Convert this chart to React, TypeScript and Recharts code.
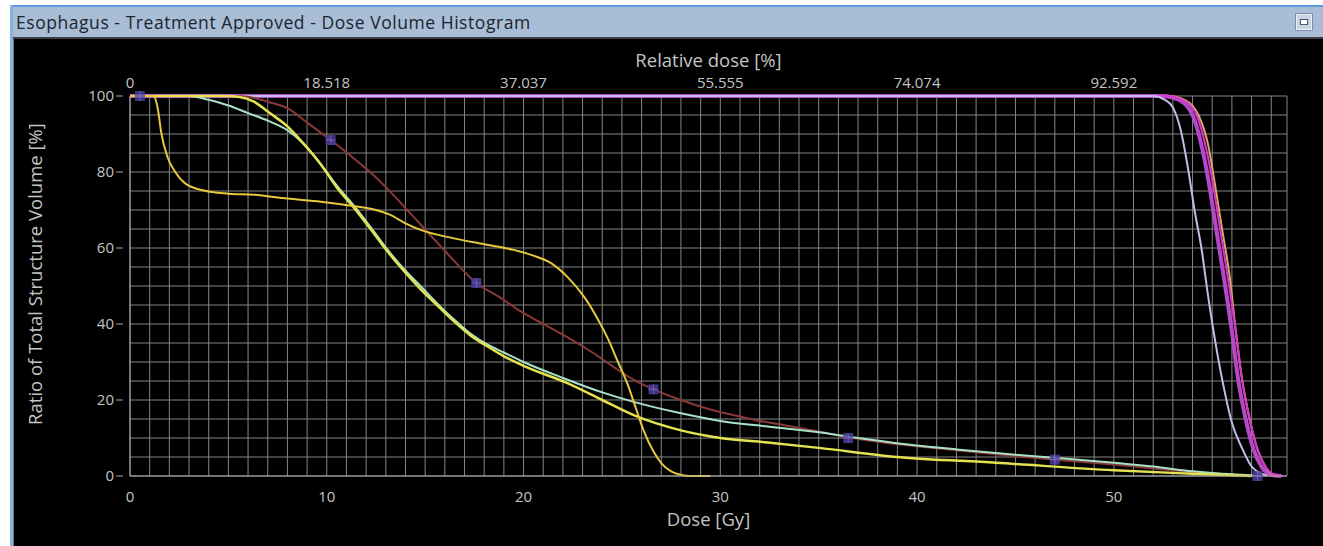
import { CartesianGrid, ComposedChart, Line, Scatter, XAxis, YAxis } from 'recharts';

// dose [Gy], ratio of total structure volume [%]
type Pt = [number, number];

const PRESCRIPTION_GY = 54;
const DOSE_MAX = 58.8;

const relativeTicks = [0, 18.518, 37.037, 55.555, 74.074, 92.592];
const volumeTicks = [0, 5, 10, 15, 20, 25, 30, 35, 40, 45, 50, 55, 60, 65, 70, 75, 80, 85, 90, 95, 100];
const doseTicks = [
  0, 1, 2, 3, 4, 5, 6, 7, 8, 9, 10, 11, 12, 13, 14, 15, 16, 17, 18, 19, 20, 21, 22, 23, 24, 25, 26, 27, 28, 29,
  30, 31, 32, 33, 34, 35, 36, 37, 38, 39, 40, 41, 42, 43, 44, 45, 46, 47, 48, 49, 50, 51, 52, 53, 54, 55, 56, 57,
  58, DOSE_MAX,
];

const ptvMain: Pt[] = [
  [0, 100], [52.5, 100], [53.3, 99], [54, 95], [54.5, 86], [54.8, 78], [55.2, 65], [55.6, 52], [56, 38],
  [56.3, 26], [56.7, 15], [57.1, 7], [57.5, 2.5], [57.9, 0.5], [58.5, 0],
];
const ptvSecond: Pt[] = [
  [0, 100], [52.7, 100], [53.5, 99], [54.2, 95], [54.7, 86], [55, 78], [55.4, 65], [55.8, 52], [56.2, 38],
  [56.5, 26], [56.9, 15], [57.3, 7], [57.7, 2.5], [58.1, 0.5], [58.6, 0],
];
const ptvOrange: Pt[] = [
  [0, 100], [52.8, 100], [53.6, 99], [54.3, 95], [54.8, 87], [55.1, 78], [55.5, 65], [55.9, 52], [56.2, 38],
  [56.5, 26], [56.9, 15], [57.3, 7], [57.7, 2.5], [58, 0.5], [58.5, 0],
];
const ptvLavender: Pt[] = [
  [0, 100], [52, 100], [52.6, 99], [53, 97], [53.4, 91], [53.8, 80], [54.1, 70], [54.45, 60], [54.8, 47],
  [55.2, 34], [55.6, 23], [56, 14], [56.5, 7.5], [57, 2.5], [57.4, 0.8], [57.8, 0.1],
];
const esophagusStep: Pt[] = [
  [0, 100], [1.2, 100], [1.4, 97], [1.6, 90], [1.9, 84], [2.3, 80], [2.8, 77], [3.7, 75.2], [5, 74.3],
  [6.3, 74], [8, 73], [9.7, 72.2], [11.4, 71], [12.5, 70], [13.2, 68.8], [14, 66.5], [14.8, 64.7],
  [16.4, 62.6], [18, 61], [19.5, 59.5], [20.5, 58], [21.4, 56], [22.3, 52], [23.1, 47], [23.7, 42],
  [24.3, 36], [24.8, 30], [25.3, 24], [25.7, 18], [26.1, 12], [26.6, 6.5], [27, 3.4], [27.5, 1.2],
  [28, 0.3], [28.5, 0], [29.5, 0],
];
const lungCyan: Pt[] = [
  [0, 100], [3, 100], [4, 99], [5, 97.5], [6, 95.5], [7, 93.5], [8, 91], [8.8, 87.5], [9.7, 82], [10.5, 76.5],
  [11.4, 71], [12.3, 65], [13.1, 59.5], [14, 54], [14.8, 49.8], [15.6, 45.5], [16.4, 41.5], [17.3, 37.5],
  [18.2, 34.5], [19, 32.5], [20, 30], [22, 25.8], [24, 22], [25.6, 19.5], [28, 16.5], [30, 14.5], [32.4, 13],
  [35, 11.5], [37, 10], [39.2, 8.5], [42, 7], [45, 5.6], [47, 4.8], [50, 3.5], [52, 2.5], [53.5, 1.5],
  [55, 0.8], [56.5, 0.3], [57.5, 0],
];
const lungYellow: Pt[] = [
  [0, 100], [5, 100], [5.5, 99.8], [6.3, 98.5], [7.1, 95.5], [8, 92], [8.8, 87.6], [9.7, 82], [10.5, 76],
  [11.4, 70.5], [12.3, 64.5], [13.1, 59], [14, 53.5], [14.8, 49], [15.6, 45], [16.4, 41], [17.3, 37],
  [18.2, 34], [19, 31.5], [20, 29], [22.2, 24.5], [24, 20], [25.6, 16], [28, 12], [30, 10], [32.4, 8.8],
  [35, 7.4], [39, 5], [44, 3.5], [50, 1.5], [54, 0.6], [57, 0],
];
const heartBrown: Pt[] = [
  [0, 100], [5.5, 100], [6.3, 99.5], [7, 98.5], [8, 96.8], [9, 93], [10.2, 88.4], [11.4, 83.5], [12.2, 80],
  [13.1, 75.5], [14, 70.5], [14.8, 66], [15.6, 61.5], [16.4, 57], [17.6, 50.8], [18.8, 47], [19.8, 43.5],
  [21, 40], [22.2, 36.6], [23.5, 32.5], [24.5, 29], [25.6, 25.3], [26.6, 22.8], [28, 20], [29.5, 17.5],
  [30.7, 16], [32, 14.5], [33.2, 13.4], [35, 11.7], [36.5, 10.2], [38, 9], [40, 7.8], [42, 6.8], [44, 5.7],
  [47, 4.3], [50, 3], [52, 2], [54, 1], [56, 0.3], [57.5, 0],
];
const markerPoints: Pt[] = [
  [0.5, 100], [10.2, 88.4], [17.6, 50.8], [26.6, 22.8], [36.5, 10], [47, 4.3], [57.3, 0],
];

const toRows = (pts: Pt[]) => pts.map(([dose, volume]) => ({ dose, volume }));
// same curve, expressed in relative dose, so the top axis has a series of its own
const toRelativeRows = (pts: Pt[]) =>
  pts.map(([dose, volume]) => ({ rel: (dose / PRESCRIPTION_GY) * 100, volume }));

const FONT = '"Open Sans", "DejaVu Sans", sans-serif';
const INK = '#c4c4c4';

function DoseTick({ x, y, payload }: any) {
  if (payload.value % 10 !== 0) return <g />;
  return (
    <text x={x} y={y + 18} textAnchor="middle" fill={INK} fontSize={15} fontFamily={FONT}>
      {payload.value}
    </text>
  );
}

function VolumeTick({ x, y, payload }: any) {
  if (payload.value % 20 !== 0) return <g />;
  return (
    <g>
      <line x1={x - 6} x2={x + 1} y1={y} y2={y} stroke="#a8a8a8" />
      <text x={x - 8} y={y + 5} textAnchor="end" fill={INK} fontSize={15} fontFamily={FONT}>
        {payload.value}
      </text>
    </g>
  );
}

function Marker({ cx, cy }: any) {
  return (
    <g opacity={0.85}>
      <rect x={cx - 5} y={cy - 5} width={10} height={10} fill="#4b3c9a" />
      <line x1={cx - 5} x2={cx + 5} y1={cy} y2={cy} stroke="#7a6cc8" />
      <line x1={cx} x2={cx} y1={cy - 5} y2={cy + 5} stroke="#7a6cc8" />
    </g>
  );
}

export default function App() {
  const line = (pts: Pt[], color: string, width = 2) => (
    <Line
      data={toRows(pts)}
      dataKey="volume"
      type="monotone"
      stroke={color}
      strokeWidth={width}
      dot={false}
      activeDot={false}
      isAnimationActive={false}
    />
  );

  return (
    <div style={{ position: 'fixed', left: 0, top: 0, width: 1323, height: 546, background: '#fff', overflow: 'hidden' }}>
      <div style={{ position: 'absolute', left: 10, top: 5, width: 1313, height: 2, background: '#5f9ad6' }} />
      <div style={{ position: 'absolute', left: 10, top: 5, width: 3, height: 541, background: '#86b2e2' }} />
      <div
        style={{
          position: 'absolute',
          left: 13,
          top: 7,
          width: 1310,
          height: 30,
          background: '#a9bdd6',
          borderBottom: '2px solid #3a3f46',
        }}
      >
        <span
          style={{
            position: 'absolute',
            left: 3,
            top: 3,
            fontFamily: FONT,
            fontSize: 17.5,
            letterSpacing: 0.55,
            color: '#1c2430',
            whiteSpace: 'nowrap',
          }}
        >
          Esophagus - Treatment Approved - Dose Volume Histogram
        </span>
        <div
          style={{
            position: 'absolute',
            left: 1283,
            top: 7,
            width: 14,
            height: 14,
            border: '1px solid #eef2f8',
            outline: '1px solid #7d8ea6',
            background: '#c8d4e4',
          }}
        >
          <div style={{ position: 'absolute', left: 3, top: 4, width: 6, height: 4, border: '1px solid #4a5566', background: '#fff' }} />
        </div>
      </div>
      <div style={{ position: 'absolute', left: 13, top: 39, width: 1310, height: 507, background: '#000' }} />
      <div style={{ position: 'absolute', left: 13, top: 39, width: 1, height: 507, background: '#777' }} />

      <div style={{ position: 'absolute', left: 14, top: 39 }}>
        <ComposedChart width={1309} height={507} margin={{ top: 30, right: 36, bottom: 30, left: 16 }}>
          <CartesianGrid stroke="#858585" strokeWidth={1} />
          <XAxis
            dataKey="dose"
            type="number"
            domain={[0, DOSE_MAX]}
            ticks={doseTicks}
            interval={0}
            tick={DoseTick}
            tickLine={false}
            axisLine={{ stroke: '#a8a8a8' }}
            height={40}
            label={{
              content: ({ viewBox }: any) => (
                <text x={viewBox.x + viewBox.width / 2} y={viewBox.y + 50} textAnchor="middle" fill={INK} fontSize={18.5} fontFamily={FONT}>
                  Dose [Gy]
                </text>
              ),
            }}
          />
          <XAxis
            xAxisId="relative"
            dataKey="rel"
            orientation="top"
            type="number"
            domain={[0, (DOSE_MAX / PRESCRIPTION_GY) * 100]}
            allowDataOverflow
            ticks={relativeTicks}
            interval={0}
            tickLine={false}
            axisLine={false}
            height={27}
            tick={{ fill: INK, fontSize: 15, fontFamily: FONT }}
            label={{
              content: ({ viewBox }: any) => (
                <text x={viewBox.x + viewBox.width / 2} y={viewBox.y - 2} textAnchor="middle" fill={INK} fontSize={18.5} fontFamily={FONT}>
                  Relative dose [%]
                </text>
              ),
            }}
          />
          <YAxis
            dataKey="volume"
            type="number"
            domain={[0, 100]}
            ticks={volumeTicks}
            interval={0}
            tick={VolumeTick}
            tickLine={false}
            axisLine={{ stroke: '#a8a8a8' }}
            width={100}
            label={{
              content: ({ viewBox }: any) => {
                const cx = viewBox.x + 4;
                const cy = viewBox.y + viewBox.height / 2 - 12;
                return (
                  <text
                    x={cx}
                    y={cy}
                    transform={`rotate(-90 ${cx} ${cy})`}
                    textAnchor="middle"
                    dominantBaseline="central"
                    fill={INK}
                    fontSize={18.5}
                    fontFamily={FONT}
                  >
                    Ratio of Total Structure Volume [%]
                  </text>
                );
              },
            }}
          />
          <Line
            xAxisId="relative"
            data={toRelativeRows(ptvMain)}
            dataKey="volume"
            stroke="none"
            dot={false}
            activeDot={false}
            isAnimationActive={false}
          />
          {line(ptvMain, '#b548c6', 4)}
          {line(ptvOrange, '#e2a45c', 2)}
          {line(ptvSecond, '#d636d2', 2)}
          {line(ptvLavender, '#c4bce8', 2)}
          {line(heartBrown, '#8a3838', 2)}
          {line(lungCyan, '#a8e2c6', 2)}
          {line(lungYellow, '#e4e250', 2.5)}
          {line(esophagusStep, '#e6c83c', 2)}
          <Scatter data={toRows(markerPoints)} dataKey="volume" shape={Marker} isAnimationActive={false} />
        </ComposedChart>
      </div>
    </div>
  );
}
